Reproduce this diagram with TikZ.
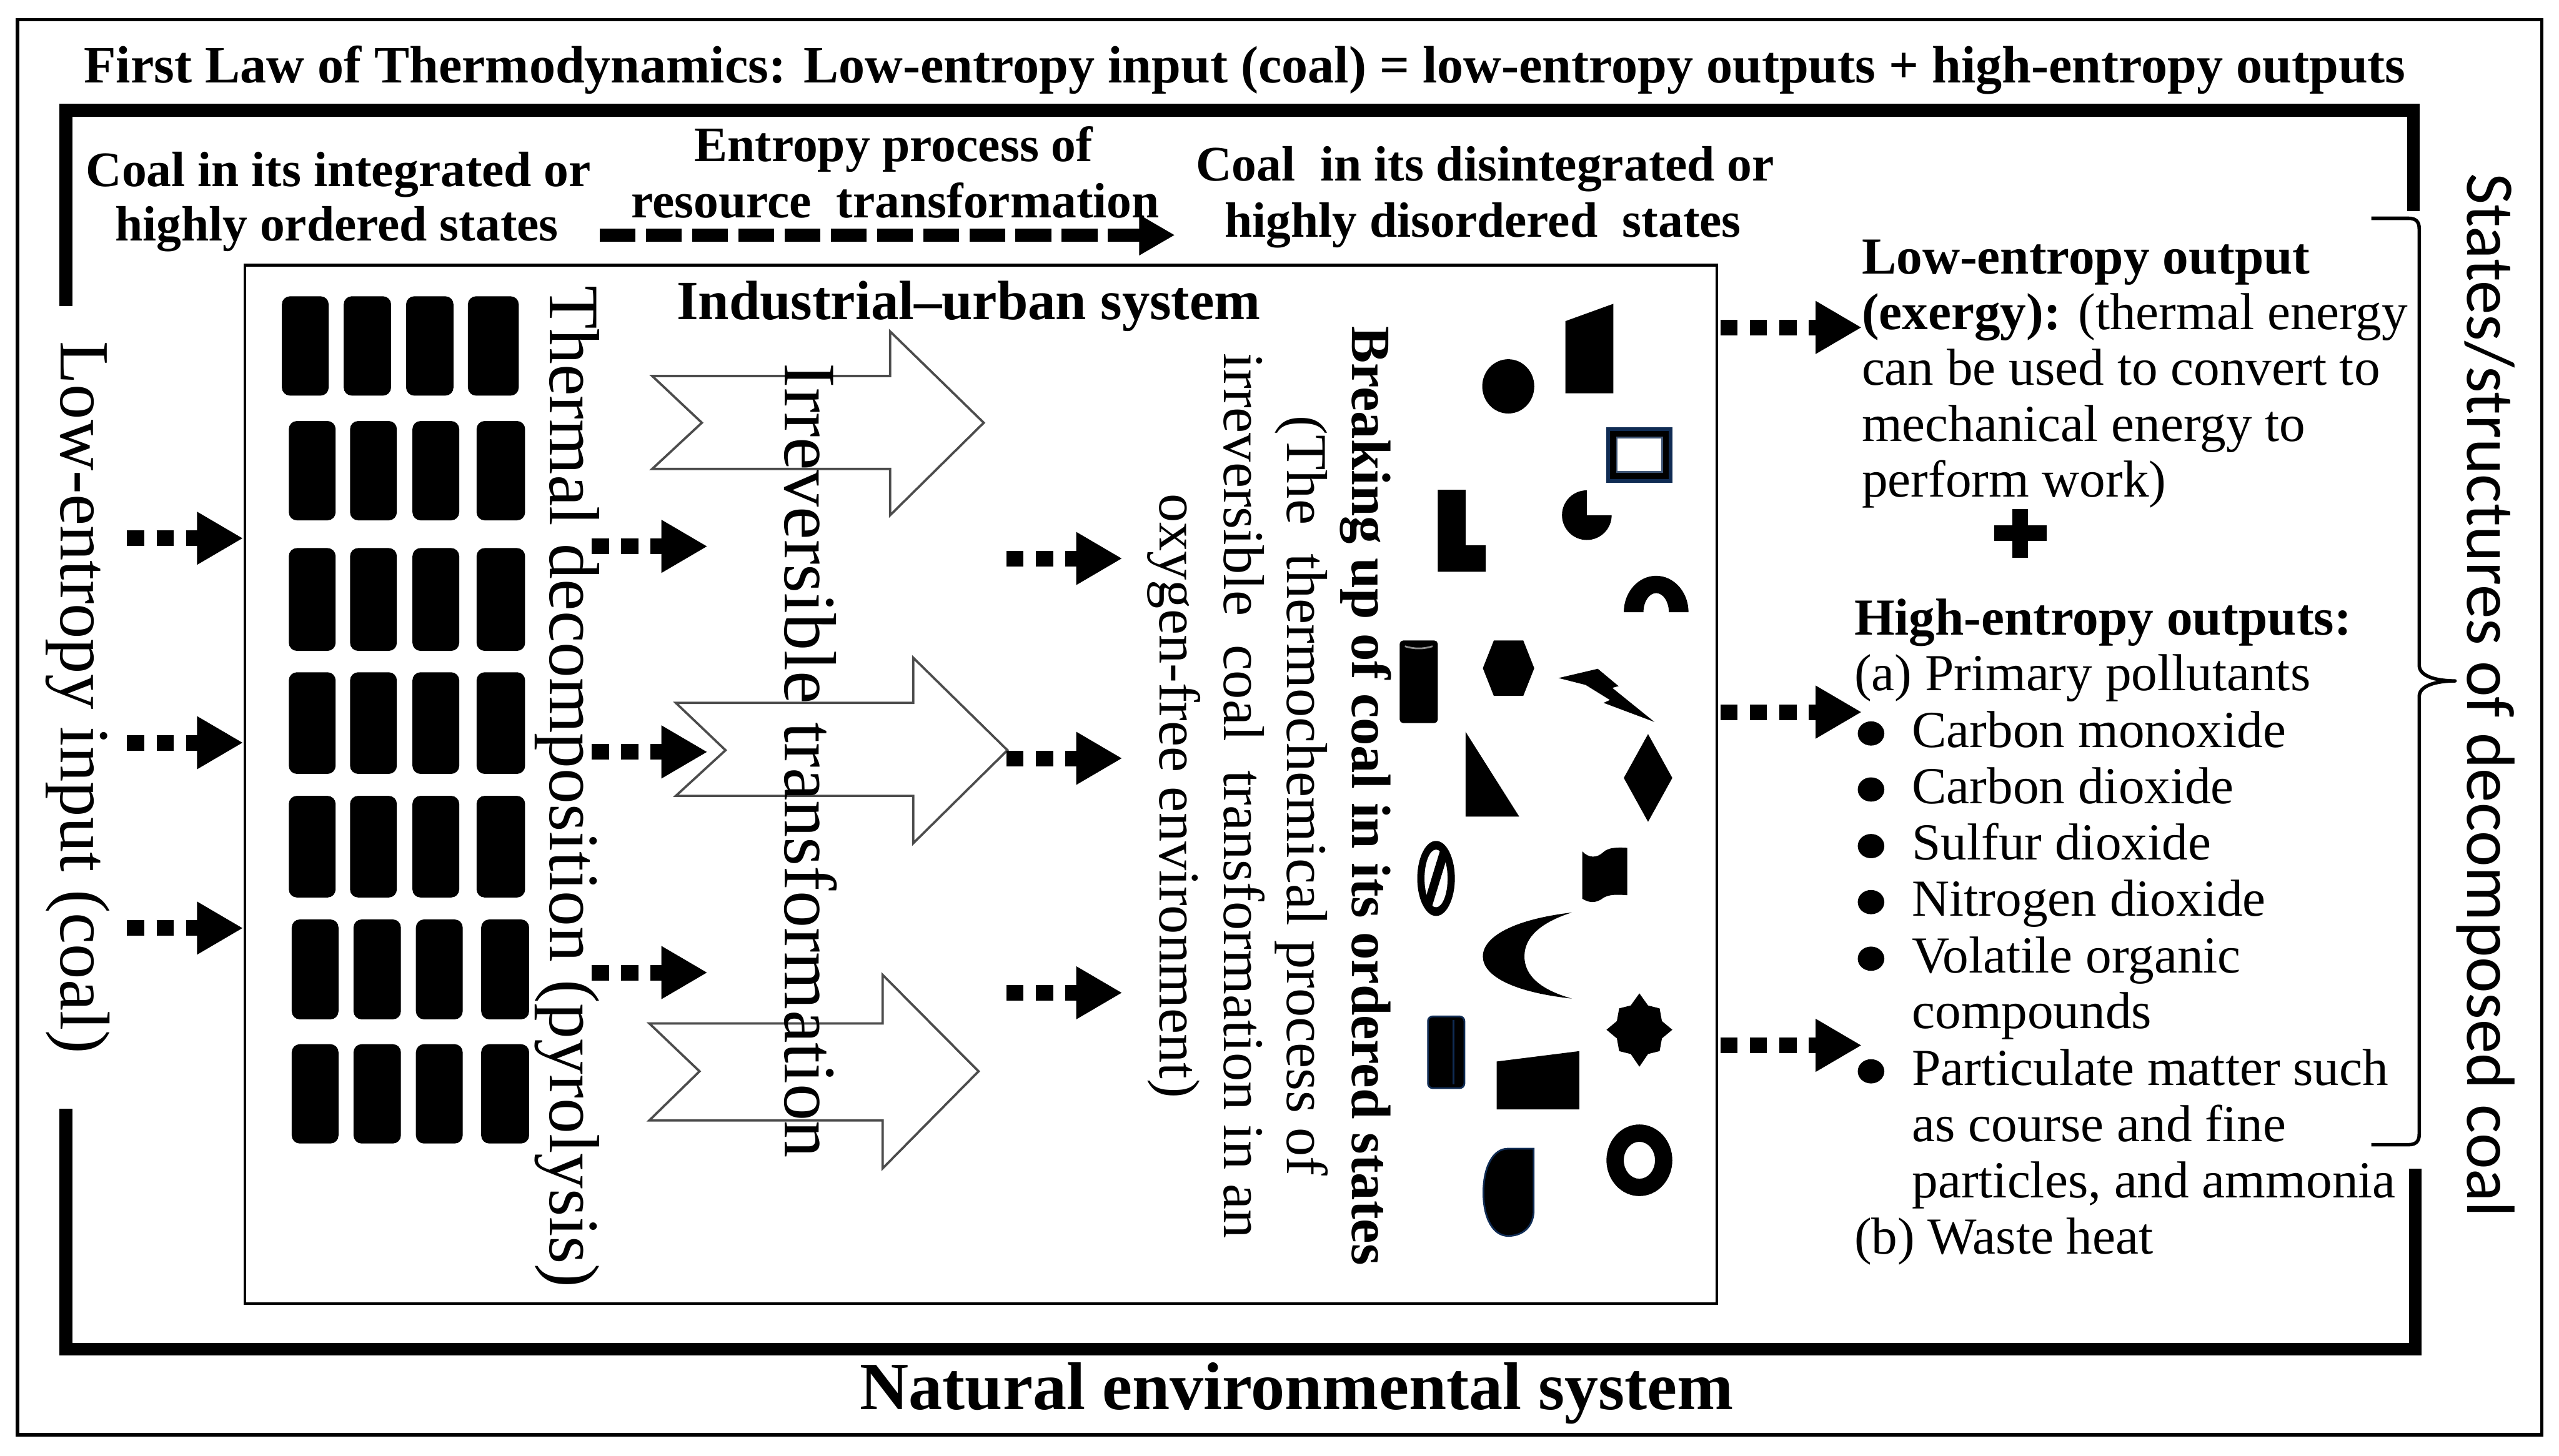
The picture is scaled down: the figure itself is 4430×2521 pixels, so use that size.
\documentclass[tikz,border=0pt]{standalone}
\usepackage{fontspec}
\setmainfont{Liberation Serif}
\newfontfamily\sansf{Carlito}
\usetikzlibrary{arrows.meta}
\definecolor{navy}{RGB}{16,44,84}
\newcommand\setfs[1]{\fontsize{#1pt}{#1pt}\selectfont}
\begin{document}
\begin{tikzpicture}[x=1pt,y=-1pt,
  txc/.style={inner sep=0pt, outer sep=0pt, anchor=base},
  txl/.style={inner sep=0pt, outer sep=0pt, anchor=base west},
  rotx/.style={inner sep=0pt, outer sep=0pt, anchor=base, rotate=-90},
  hdr/.style={txc, font=\setfs{86}\bfseries},
  rt/.style={txl, font=\setfs{90}},
  brk/.style={rotx, font=\setfs{100}},
  coal/.style={fill=black, rounded corners=14pt},
  blockarrow/.style={draw=black!70, line width=4pt, fill=white, line join=miter},
  dotarr/.style={line width=27pt, dash pattern=on 30pt off 21pt, -{Triangle[length=80pt,width=86pt]}},
  dasharr/.style={line width=23pt, dash pattern=on 62pt off 18pt, -{Triangle[length=62pt,width=66pt]}},
  frameline/.style={line width=22pt, line join=miter},
  bul/.style={fill=black}
]
\useasboundingbox (0,0) rectangle (4430,2521);
\fill[white] (0,0) rectangle (4430,2521);

% outer thin border
\draw[line width=6pt] (30,34) rectangle (4400,2484);

% natural system frame
\draw[frameline] (114,530) -- (114,191) -- (4178,191) -- (4178,366);
\draw[frameline] (114,1920) -- (114,2336) -- (4181,2336) -- (4181,2024);

% inner box
\draw[line width=5pt] (424,459) rectangle (2972,2257);

% title and headers
\node[txc, font=\setfs{91}\bfseries] (title) at (2155,143) {First Law of Thermodynamics: Low-entropy input (coal) = low-entropy outputs + high-entropy outputs};
\node[hdr] (h1a) at (586,323) {Coal in its integrated or};
\node[hdr] (h1b) at (583,417) {highly ordered states};
\node[hdr] (h2a) at (1547,280) {Entropy process of};
\node[hdr] (h2b) at (1550,377) {resource~ transformation};
\node[hdr] (h3a) at (2571,313) {Coal~ in its disintegrated or};
\node[hdr] (h3b) at (2567,410) {highly disordered~ states};
\coordinate (d1s) at (1038,407);
\coordinate (d1e) at (2034,407);
\draw[dasharr] (d1s) -- (d1e);

\node[txc, font=\setfs{96}\bfseries] (ind) at (1677,553) {Industrial--urban system};
\node[txc, font=\setfs{117}\bfseries] (nat) at (2245,2440) {Natural environmental system};

% coal blocks
\foreach \xa/\xb in {488/569,595/677,703/785,810/898}
  \fill[coal] (\xa,513) rectangle (\xb,685);
\foreach \ya/\yb in {729/901,949/1127,1164/1340,1378/1554}
  \foreach \xa/\xb in {500/581,606/687,714/795,825/909}
    \fill[coal] (\xa,\ya) rectangle (\xb,\yb);
\foreach \ya/\yb in {1592/1765,1808/1980}
  \foreach \xa/\xb in {505/586,612/694,720/801,833/916}
    \fill[coal] (\xa,\ya) rectangle (\xb,\yb);

% hollow block arrows
\draw[blockarrow] (1129,651) -- (1541,651) -- (1541,574) -- (1703,732) -- (1541,892) -- (1541,812) -- (1129,812) -- (1215,732) -- cycle;
\draw[blockarrow] (1170,1217) -- (1581,1217) -- (1581,1139) -- (1744,1299) -- (1581,1460) -- (1581,1378) -- (1170,1378) -- (1256,1299) -- cycle;
\draw[blockarrow] (1124,1772) -- (1528,1772) -- (1528,1688) -- (1694,1855) -- (1528,2023) -- (1528,1940) -- (1124,1940) -- (1211,1855) -- cycle;

% rotated texts
\node[rotx, font=\setfs{122}] (lowin) at (105,1208) {Low-entropy input (coal)};
\node[rotx, font=\setfs{123}] (thermal) at (952,1362) {Thermal decomposition (pyrolysis)};
\node[rotx, font=\setfs{128}] (irrev) at (1359,1317) {Irreversible transformation};
\node[brk, font=\setfs{96}\bfseries] (brk1) at (2341,1378) {Breaking up of coal in its ordered states};
\node[brk] (brk2) at (2228,1378) {(The~ thermochemical process of};
\node[brk] (brk3) at (2119,1378) {irreversible~ coal~ transformation in an};
\node[brk] (brk4) at (2008,1378) {oxygen-free environment)};
\node[rotx, font=\sansf\setfs{118}] (states) at (4272,1204) {States/structures of decomposed coal};

% dotted arrows
\foreach \n/\xs/\xe/\yy in {a1/220/421/932, a2/220/421/1286, a3/220/421/1607,
                          b1/1024/1225/946, b2/1024/1225/1302, b3/1024/1225/1684,
                          c1/1742/1943/967, c2/1742/1943/1313, c3/1742/1943/1719,
                          e1/2978/3223/567, e2/2978/3223/1233, e3/2978/3223/1810}{
  \coordinate (\n s) at (\xs,\yy);
  \coordinate (\n e) at (\xe,\yy);
  \draw[dotarr] (\n s) -- (\n e);
}

% disordered coal pieces
\fill (2611,669) ellipse [x radius=45pt, y radius=47pt];
\fill (2710,556) -- (2793,526) -- (2793,681) -- (2710,681) -- cycle;
\filldraw[fill=black, draw=navy, line width=6pt] (2784,743) rectangle (2892,833);
\filldraw[fill=white, draw=navy!80, line width=3pt] (2799,758) rectangle (2877,817);
\fill (2489,848) -- (2537,848) -- (2537,944) -- (2572,944) -- (2572,990) -- (2489,990) -- cycle;
\fill (2747,892) -- ++(43pt,0pt) arc[start angle=0, end angle=-270, radius=43pt] -- cycle;
\fill (2811,1060) arc[start angle=180, end angle=0, x radius=56pt, y radius=63pt] -- (2889,1060) arc[start angle=0, end angle=180, x radius=22pt, y radius=33pt] -- cycle;
\fill[rounded corners=6pt] (2423,1109) rectangle (2489,1252);
\draw[black!45, line width=3pt] (2432,1119) .. controls (2448,1124) and (2464,1124) .. (2480,1119);
\fill (2567,1157) -- (2586,1109) -- (2637,1109) -- (2656,1157) -- (2637,1205) -- (2586,1205) -- cycle;
\fill (2698,1174) -- (2766,1158) -- (2802,1188) -- (2791,1191) -- (2864,1250) -- (2776,1217) -- (2787,1212) -- (2745,1186) -- cycle;
\fill (2537,1267) -- (2537,1414) -- (2630,1414) -- cycle;
\fill (2853,1271) -- (2895,1347) -- (2853,1423) -- (2811,1347) -- cycle;
\fill[even odd rule] (2486,1521) ellipse[x radius=32.5pt, y radius=65pt] (2486,1521) ellipse[x radius=20pt, y radius=50pt];
\begin{scope}
  \clip (2486,1521) ellipse[x radius=22pt, y radius=52pt];
  \draw[line width=15pt] (2504,1462) -- (2468,1580);
\end{scope}
\fill (2739,1474) .. controls (2750,1486) and (2764,1486) .. (2775,1476) .. controls (2784,1467) and (2800,1467) .. (2817,1468) -- (2817,1550) .. controls (2800,1549) and (2786,1548) .. (2775,1555) .. controls (2762,1565) and (2750,1563) .. (2739,1556) -- cycle;
\fill (2721,1580) .. controls (2620,1592) and (2567,1622) .. (2567,1656) .. controls (2567,1690) and (2620,1718) .. (2721,1729) .. controls (2668,1714) and (2639,1690) .. (2639,1656) .. controls (2639,1622) and (2668,1597) .. (2721,1580) -- cycle;
\filldraw[fill=black, draw=navy, line width=3pt, rounded corners=8pt] (2472,1760) rectangle (2535,1884);
\draw[navy, line width=3pt] (2516,1766) -- (2516,1878);
\fill (2895,1783) -- (2877,1768) -- (2873,1746) -- (2853,1741) -- (2838,1720) -- (2823,1741) -- (2803,1746) -- (2799,1768) -- (2781,1783) -- (2799,1798) -- (2803,1820) -- (2823,1825) -- (2838,1847) -- (2853,1825) -- (2873,1820) -- (2877,1798) -- cycle;
\fill (2591,1838) -- (2734,1820) -- (2734,1921) -- (2591,1921) -- cycle;
\filldraw[fill=black, draw=navy, line width=3pt] (2655,1989) -- (2655,2095) .. controls (2655,2125) and (2635,2140) .. (2611,2140) .. controls (2585,2140) and (2568,2110) .. (2568,2065) .. controls (2568,2020) and (2585,1989) .. (2610,1989) -- cycle;
\fill[even odd rule] (2838,2009) ellipse[x radius=57pt, y radius=62pt] (2838,2009) ellipse[x radius=27pt, y radius=32pt];

% right-side texts
\node[rt, font=\setfs{90}\bfseries] (lo1) at (3223,474) {Low-entropy output};
\node[rt] (lo2) at (3223,571) {\textbf{(exergy):} (thermal energy};
\node[rt] (lo3) at (3223,667) {can be used to convert to};
\node[rt] (lo4) at (3223,764) {mechanical energy to};
\node[rt] (lo5) at (3223,860) {perform work)};
\fill (3484,881) rectangle (3511,966);
\fill (3452,910) rectangle (3543,937);
\node[rt, font=\setfs{90}\bfseries] (hi1) at (3210,1099) {High-entropy outputs:};
\node[rt] (hi2) at (3210,1196) {(a) Primary pollutants};
\node[rt] (p1) at (3310,1294) {Carbon monoxide};
\node[rt] (p2) at (3310,1391) {Carbon dioxide};
\node[rt] (p3) at (3310,1489) {Sulfur dioxide};
\node[rt] (p4) at (3310,1586) {Nitrogen dioxide};
\node[rt] (p5) at (3310,1684) {Volatile organic};
\node[rt] (p5b) at (3310,1781) {compounds};
\node[rt] (p6) at (3310,1879) {Particulate matter such};
\node[rt] (p6b) at (3310,1976) {as course and fine};
\node[rt] (p6c) at (3310,2074) {particles, and ammonia};
\node[rt] (hib) at (3210,2171) {(b) Waste heat};
\foreach \yy in {1294,1391,1489,1586,1684,1879}
  \fill[bul] (3239,\yy-24) ellipse[x radius=23pt, y radius=21pt];

% brace
\draw[line width=6pt, line join=round] (4105,378) -- (4170,378) .. controls (4182,378) and (4188,384) .. (4188,396) -- (4188,1152) .. controls (4188,1170) and (4215,1179) .. (4250,1179) .. controls (4215,1179) and (4188,1188) .. (4188,1206) -- (4188,1964) .. controls (4188,1976) and (4182,1982) .. (4170,1982) -- (4105,1982);
\end{tikzpicture}
\end{document}
